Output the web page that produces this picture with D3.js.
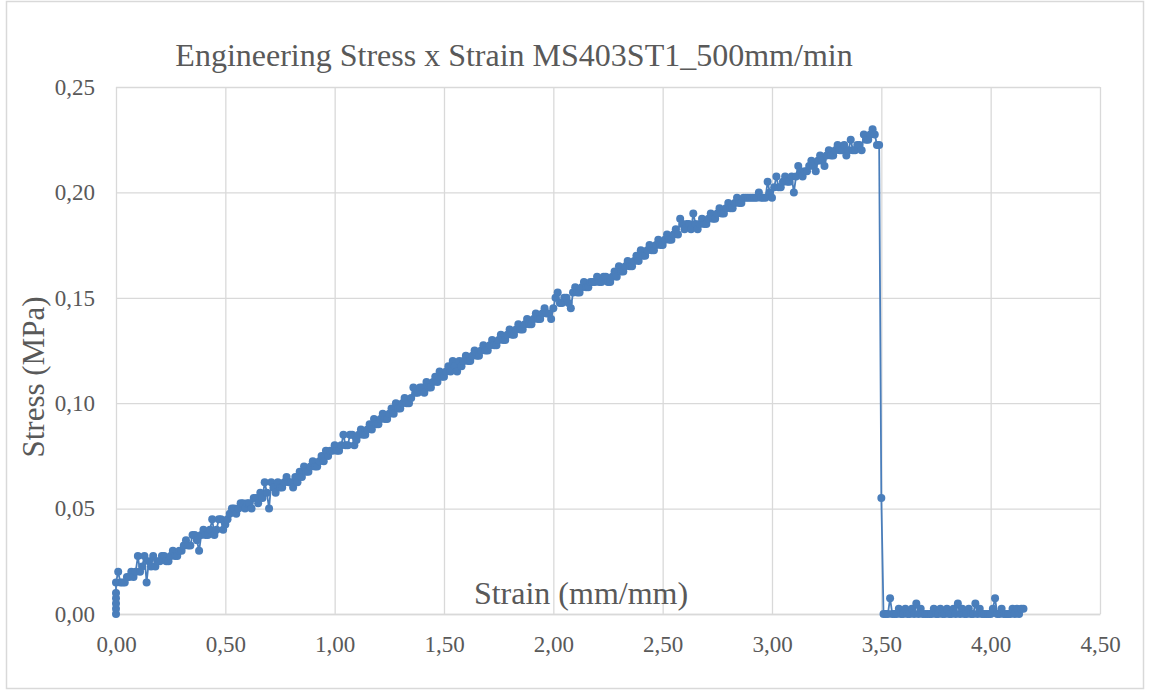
<!DOCTYPE html>
<html>
<head>
<meta charset="utf-8">
<script src="https://cdn.jsdelivr.net/npm/d3@7"></script>
<style>
  body { margin: 0; background: #fff; }
  svg { display: block; }
</style>
</head>
<body>
<svg id="chart" width="1150" height="693"></svg>
<script>
const TITLE = 'Engineering Stress x Strain MS403ST1_500mm/min';
const X_TITLE = 'Strain (mm/mm)';
const Y_TITLE = 'Stress (MPa)';
const X_TICKS = [0, 0.5, 1, 1.5, 2, 2.5, 3, 3.5, 4, 4.5];
const Y_TICKS = [0, 0.05, 0.10, 0.15, 0.20, 0.25];

// strain (mm/mm)
const strain = [
  0, 0, 0, 0, 0,
  0.00, 0.01, 0.02, 0.03, 0.04, 0.05, 0.06, 0.07, 0.08, 0.09,
  0.10, 0.11, 0.12, 0.13, 0.14, 0.15, 0.16, 0.17, 0.18, 0.19,
  0.20, 0.21, 0.22, 0.23, 0.24, 0.25, 0.26, 0.27, 0.28, 0.29,
  0.30, 0.31, 0.32, 0.33, 0.34, 0.35, 0.36, 0.37, 0.38, 0.39,
  0.40, 0.41, 0.42, 0.43, 0.44, 0.45, 0.46, 0.47, 0.48, 0.49,
  0.50, 0.51, 0.52, 0.53, 0.54, 0.55, 0.56, 0.57, 0.58, 0.59,
  0.60, 0.61, 0.62, 0.63, 0.64, 0.65, 0.66, 0.67, 0.68, 0.69,
  0.70, 0.71, 0.72, 0.73, 0.74, 0.75, 0.76, 0.77, 0.78, 0.79,
  0.80, 0.81, 0.82, 0.83, 0.84, 0.85, 0.86, 0.87, 0.88, 0.89,
  0.90, 0.91, 0.92, 0.93, 0.94, 0.95, 0.96, 0.97, 0.98, 0.99,
  1.00, 1.01, 1.02, 1.03, 1.04, 1.05, 1.06, 1.07, 1.08, 1.09,
  1.10, 1.11, 1.12, 1.13, 1.14, 1.15, 1.16, 1.17, 1.18, 1.19,
  1.20, 1.21, 1.22, 1.23, 1.24, 1.25, 1.26, 1.27, 1.28, 1.29,
  1.30, 1.31, 1.32, 1.33, 1.34, 1.35, 1.36, 1.37, 1.38, 1.39,
  1.40, 1.41, 1.42, 1.43, 1.44, 1.45, 1.46, 1.47, 1.48, 1.49,
  1.50, 1.51, 1.52, 1.53, 1.54, 1.55, 1.56, 1.57, 1.58, 1.59,
  1.60, 1.61, 1.62, 1.63, 1.64, 1.65, 1.66, 1.67, 1.68, 1.69,
  1.70, 1.71, 1.72, 1.73, 1.74, 1.75, 1.76, 1.77, 1.78, 1.79,
  1.80, 1.81, 1.82, 1.83, 1.84, 1.85, 1.86, 1.87, 1.88, 1.89,
  1.90, 1.91, 1.92, 1.93, 1.94, 1.95, 1.96, 1.97, 1.98, 1.99,
  2.00, 2.01, 2.02, 2.03, 2.04, 2.05, 2.06, 2.07, 2.08, 2.09,
  2.10, 2.11, 2.12, 2.13, 2.14, 2.15, 2.16, 2.17, 2.18, 2.19,
  2.20, 2.21, 2.22, 2.23, 2.24, 2.25, 2.26, 2.27, 2.28, 2.29,
  2.30, 2.31, 2.32, 2.33, 2.34, 2.35, 2.36, 2.37, 2.38, 2.39,
  2.40, 2.41, 2.42, 2.43, 2.44, 2.45, 2.46, 2.47, 2.48, 2.49,
  2.50, 2.51, 2.52, 2.53, 2.54, 2.55, 2.56, 2.57, 2.58, 2.59,
  2.60, 2.61, 2.62, 2.63, 2.64, 2.65, 2.66, 2.67, 2.68, 2.69,
  2.70, 2.71, 2.72, 2.73, 2.74, 2.75, 2.76, 2.77, 2.78, 2.79,
  2.80, 2.81, 2.82, 2.83, 2.84, 2.85, 2.86, 2.87, 2.88, 2.89,
  2.90, 2.91, 2.92, 2.93, 2.94, 2.95, 2.96, 2.97, 2.98, 2.99,
  3.00, 3.01, 3.02, 3.03, 3.04, 3.05, 3.06, 3.07, 3.08, 3.09,
  3.10, 3.11, 3.12, 3.13, 3.14, 3.15, 3.16, 3.17, 3.18, 3.19,
  3.20, 3.21, 3.22, 3.23, 3.24, 3.25, 3.26, 3.27, 3.28, 3.29,
  3.30, 3.31, 3.32, 3.33, 3.34, 3.35, 3.36, 3.37, 3.38, 3.39,
  3.40, 3.41, 3.42, 3.43, 3.44, 3.45, 3.46, 3.47, 3.48, 3.49,
  3.50, 3.51,
  3.52, 3.53, 3.54, 3.55, 3.56, 3.57, 3.58, 3.59, 3.60, 3.61,
  3.62, 3.63, 3.64, 3.65, 3.66, 3.67, 3.68, 3.69, 3.70, 3.71,
  3.72, 3.73, 3.74, 3.75, 3.76, 3.77, 3.78, 3.79, 3.80, 3.81,
  3.82, 3.83, 3.84, 3.85, 3.86, 3.87, 3.88, 3.89, 3.90, 3.91,
  3.92, 3.93, 3.94, 3.95, 3.96, 3.97, 3.98, 3.99, 4.00, 4.01,
  4.02, 4.03, 4.04, 4.05, 4.06, 4.07, 4.08, 4.09, 4.10, 4.11,
  4.12, 4.13, 4.14, 4.15
];

// stress (MPa)
const stress = [
  0, 0.0025, 0.0050, 0.0075, 0.0100,
  0.0150, 0.0200, 0.0150, 0.0150, 0.0150, 0.0175, 0.0175, 0.0200, 0.0175, 0.0200,
  0.0275, 0.0200, 0.0225, 0.0275, 0.0150, 0.0250, 0.0225, 0.0275, 0.0225, 0.0250,
  0.0250, 0.0275, 0.0275, 0.0250, 0.0250, 0.0275, 0.0300, 0.0275, 0.0275, 0.0300,
  0.0300, 0.0325, 0.0350, 0.0325, 0.0325, 0.0375, 0.0375, 0.0350, 0.0300, 0.0375,
  0.0400, 0.0375, 0.0375, 0.0400, 0.0450, 0.0375, 0.0400, 0.0450, 0.0450, 0.0400,
  0.0425, 0.0450, 0.0475, 0.0500, 0.0500, 0.0475, 0.0500, 0.0525, 0.0525, 0.0500,
  0.0525, 0.0525, 0.0500, 0.0550, 0.0550, 0.0525, 0.0575, 0.0550, 0.0625, 0.0575,
  0.0500, 0.0625, 0.0600, 0.0575, 0.0625, 0.0600, 0.0600, 0.0625, 0.0650, 0.0625,
  0.0625, 0.0600, 0.0650, 0.0625, 0.0675, 0.0650, 0.0700, 0.0675, 0.0675, 0.0700,
  0.0725, 0.0700, 0.0700, 0.0725, 0.0750, 0.0725, 0.0775, 0.0750, 0.0775, 0.0775,
  0.0800, 0.0775, 0.0775, 0.0800, 0.0850, 0.0800, 0.0800, 0.0850, 0.0850, 0.0800,
  0.0825, 0.0850, 0.0875, 0.0850, 0.0850, 0.0875, 0.0900, 0.0875, 0.0925, 0.0900,
  0.0900, 0.0925, 0.0950, 0.0925, 0.0925, 0.0950, 0.0975, 0.0950, 0.1000, 0.0975,
  0.0975, 0.1000, 0.1025, 0.1000, 0.1000, 0.1025, 0.1075, 0.1050, 0.1050, 0.1075,
  0.1075, 0.1050, 0.1100, 0.1075, 0.1075, 0.1100, 0.1125, 0.1100, 0.1150, 0.1125,
  0.1125, 0.1150, 0.1175, 0.1150, 0.1200, 0.1175, 0.1150, 0.1200, 0.1175, 0.1200,
  0.1225, 0.1200, 0.1200, 0.1225, 0.1250, 0.1225, 0.1225, 0.1250, 0.1275, 0.1250,
  0.1250, 0.1275, 0.1300, 0.1275, 0.1275, 0.1300, 0.1325, 0.1300, 0.1300, 0.1325,
  0.1350, 0.1325, 0.1325, 0.1350, 0.1375, 0.1350, 0.1350, 0.1375, 0.1400, 0.1375,
  0.1375, 0.1400, 0.1425, 0.1400, 0.1400, 0.1425, 0.1450, 0.1425, 0.1425, 0.1400,
  0.1450, 0.1500, 0.1525, 0.1475, 0.1475, 0.1500, 0.1500, 0.1475, 0.1450, 0.1525,
  0.1550, 0.1525, 0.1525, 0.1550, 0.1575, 0.1550, 0.1550, 0.1575, 0.1575, 0.1575,
  0.1600, 0.1575, 0.1575, 0.1600, 0.1600, 0.1575, 0.1575, 0.1600, 0.1625, 0.1600,
  0.1650, 0.1625, 0.1625, 0.1650, 0.1675, 0.1650, 0.1650, 0.1675, 0.1700, 0.1675,
  0.1725, 0.1700, 0.1700, 0.1725, 0.1750, 0.1725, 0.1725, 0.1750, 0.1775, 0.1750,
  0.1750, 0.1775, 0.1800, 0.1775, 0.1775, 0.1800, 0.1825, 0.1800, 0.1875, 0.1850,
  0.1825, 0.1850, 0.1850, 0.1825, 0.1900, 0.1850, 0.1825, 0.1850, 0.1875, 0.1850,
  0.1850, 0.1875, 0.1900, 0.1875, 0.1875, 0.1900, 0.1925, 0.1900, 0.1900, 0.1925,
  0.1950, 0.1925, 0.1925, 0.1950, 0.1975, 0.1950, 0.1950, 0.1975, 0.1975, 0.1975,
  0.1975, 0.1975, 0.1975, 0.1975, 0.2000, 0.1975, 0.1975, 0.1975, 0.2050, 0.2000,
  0.1975, 0.2025, 0.2075, 0.2025, 0.2025, 0.2050, 0.2075, 0.2050, 0.2050, 0.2075,
  0.2000, 0.2075, 0.2125, 0.2100, 0.2075, 0.2100, 0.2100, 0.2125, 0.2150, 0.2125,
  0.2100, 0.2150, 0.2175, 0.2150, 0.2125, 0.2175, 0.2200, 0.2175, 0.2175, 0.2200,
  0.2225, 0.2200, 0.2200, 0.2225, 0.2175, 0.2200, 0.2250, 0.2200, 0.2200, 0.2225,
  0.2225, 0.2200, 0.2275, 0.2250, 0.2250, 0.2275, 0.2300, 0.2275, 0.2225, 0.2225,
  0.0550, 0,
  0, 0, 0.0075, 0, 0, 0, 0.0025, 0, 0, 0.0025,
  0, 0, 0.0025, 0, 0.0050, 0, 0.0025, 0, 0, 0,
  0, 0, 0.0025, 0, 0, 0.0025, 0, 0, 0.0025, 0,
  0, 0.0025, 0, 0.0050, 0, 0.0025, 0, 0, 0.0025, 0,
  0, 0.0050, 0, 0.0025, 0, 0, 0, 0, 0, 0.0025,
  0.0075, 0, 0, 0.0025, 0, 0, 0, 0, 0.0025, 0,
  0.0025, 0, 0.0025, 0.0025
];

const BLUE = '#4a7ebb';
const GRID = '#d9d9d9';
const TEXT = '#595959';
const FONT = '"Liberation Serif", "Times New Roman", serif';

const svg = d3.select('#chart');
const margin = { left: 116, right: 50, top: 87, bottom: 79 };
const W = 1150, H = 693;

svg.append('rect')
  .attr('x', 6.5).attr('y', 1.5).attr('width', 1137).attr('height', 687)
  .attr('fill', '#fff').attr('stroke', GRID).attr('stroke-width', 1.5);

const x = d3.scaleLinear().domain([0, 4.5]).range([margin.left, W - margin.right]);
const y = d3.scaleLinear().domain([0, 0.25]).range([H - margin.bottom, margin.top]);
const fmt = (d) => d3.format('.2f')(d).replace('.', ',');

// gridlines
svg.append('g')
  .attr('transform', `translate(0,${H - margin.bottom})`)
  .call(d3.axisBottom(x).tickValues(X_TICKS).tickSize(-(H - margin.top - margin.bottom)).tickFormat(''))
  .call((g) => g.select('.domain').remove())
  .call((g) => g.selectAll('line').attr('stroke', GRID).attr('stroke-width', 1.3));
svg.append('g')
  .attr('transform', `translate(${margin.left},0)`)
  .call(d3.axisLeft(y).tickValues(Y_TICKS).tickSize(-(W - margin.left - margin.right)).tickFormat(''))
  .call((g) => g.select('.domain').remove())
  .call((g) => g.selectAll('line').attr('stroke', GRID).attr('stroke-width', 1.3));

// tick labels
const xAxis = svg.append('g')
  .attr('transform', `translate(0,${H - margin.bottom})`)
  .call(d3.axisBottom(x).tickValues(X_TICKS).tickSize(0).tickPadding(22).tickFormat(fmt));
xAxis.select('.domain').attr('stroke', GRID).attr('stroke-width', 1.5);
xAxis.selectAll('text').attr('font-family', FONT).attr('font-size', 23).attr('fill', TEXT);

const yAxis = svg.append('g')
  .attr('transform', `translate(${margin.left},0)`)
  .call(d3.axisLeft(y).tickValues(Y_TICKS).tickSize(0).tickPadding(21).tickFormat(fmt));
yAxis.select('.domain').remove();
yAxis.selectAll('text').attr('font-family', FONT).attr('font-size', 23).attr('fill', TEXT);

// series
const pts = strain.map((s, i) => [s, stress[i]]);
svg.append('path')
  .datum(pts)
  .attr('fill', 'none')
  .attr('stroke', BLUE)
  .attr('stroke-width', 1.8)
  .attr('stroke-linejoin', 'round')
  .attr('d', d3.line().x((d) => x(d[0])).y((d) => y(d[1])));
svg.append('g').selectAll('circle').data(pts).enter()
  .append('circle')
  .attr('cx', (d) => x(d[0]))
  .attr('cy', (d) => y(d[1]))
  .attr('r', 4)
  .attr('fill', BLUE);

// titles
svg.append('text')
  .attr('x', 514).attr('y', 66)
  .attr('text-anchor', 'middle')
  .attr('font-family', FONT).attr('font-size', 32).attr('fill', TEXT)
  .text(TITLE);
svg.append('text')
  .attr('x', 581).attr('y', 604)
  .attr('text-anchor', 'middle')
  .attr('font-family', FONT).attr('font-size', 32).attr('fill', TEXT)
  .text(X_TITLE);
svg.append('text')
  .attr('transform', 'translate(44,377) rotate(-90)')
  .attr('text-anchor', 'middle')
  .attr('font-family', FONT).attr('font-size', 31).attr('fill', TEXT)
  .text(Y_TITLE);
</script>
</body>
</html>
